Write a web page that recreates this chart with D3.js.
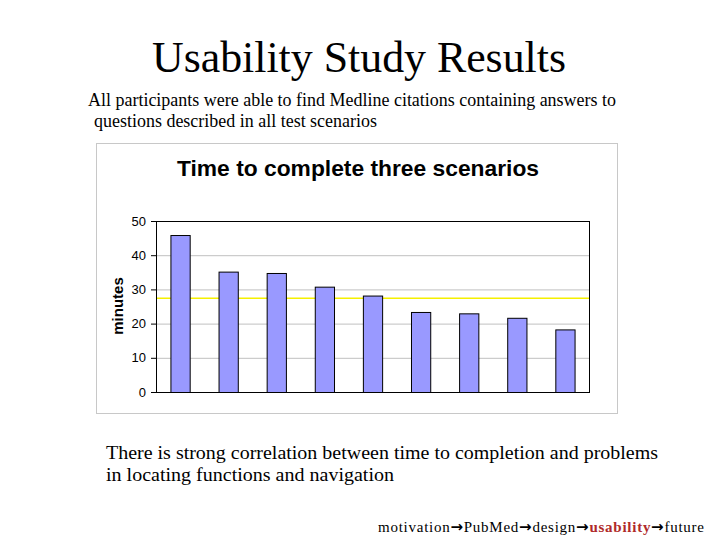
<!DOCTYPE html>
<html><head><meta charset="utf-8">
<script src="https://cdn.jsdelivr.net/npm/d3@7"></script>
<style>body{margin:0;background:#fff}svg{display:block}</style>
</head><body>
<script>
const categories = ["P1","P2","P3","P4","P5","P6","P7","P8","P9"];
const minutes = [45.9, 35.2, 34.8, 30.8, 28.2, 23.4, 23.0, 21.7, 18.3];
const referenceLine = 27.4;
const yTicks = [0, 10, 20, 30, 40, 50];
const footerItems = ["motivation", "PubMed", "design", "usability", "future"];
const activeItem = "usability";

const svg = d3.select("body").append("svg").attr("width", 720).attr("height", 540);

svg.append("text").attr("x", 359).attr("y", 72).attr("text-anchor", "middle")
  .attr("font-family", "Liberation Serif, Times New Roman, serif").attr("font-size", 44)
  .attr("textLength", 414).attr("lengthAdjust", "spacingAndGlyphs")
  .text("Usability Study Results");
svg.append("text").attr("x", 88).attr("y", 106)
  .attr("font-family", "Liberation Serif, serif").attr("font-size", 18)
  .attr("textLength", 528).attr("lengthAdjust", "spacingAndGlyphs")
  .text("All participants were able to find Medline citations containing answers to");
svg.append("text").attr("x", 94).attr("y", 127)
  .attr("font-family", "Liberation Serif, serif").attr("font-size", 18)
  .attr("textLength", 283).attr("lengthAdjust", "spacingAndGlyphs")
  .text("questions described in all test scenarios");

// chart box
svg.append("rect").attr("x", 96.5).attr("y", 143.5).attr("width", 521).attr("height", 270)
  .attr("fill", "#fff").attr("stroke", "#c8c8c8");
svg.append("text").attr("x", 358).attr("y", 176).attr("text-anchor", "middle")
  .attr("font-family", "Liberation Sans, Arial, sans-serif").attr("font-weight", "bold").attr("font-size", 22.5)
  .attr("textLength", 362).attr("lengthAdjust", "spacingAndGlyphs")
  .text("Time to complete three scenarios");

const L = 156, R = 589, T = 221, B = 392;
const x = d3.scaleBand().domain(categories).range([L, R]).paddingInner(0.6).paddingOuter(0.3);
const y = d3.scaleLinear().domain([0, 50]).range([B, T]);

const g = svg.append("g");
g.selectAll("line.grid").data(yTicks.filter(d => d > 0)).join("line")
  .attr("x1", L).attr("x2", R).attr("y1", d => y(d) + 0.5).attr("y2", d => y(d) + 0.5)
  .attr("stroke", "#c0c0c0").attr("stroke-width", 1);

const yAxis = g.append("g").attr("transform", `translate(${L},0)`)
  .call(d3.axisLeft(y).tickValues(yTicks).tickSize(5).tickPadding(5));
yAxis.select(".domain").remove();
yAxis.selectAll("text").attr("font-family", "Liberation Sans, Arial, sans-serif").attr("font-size", 13).attr("fill", "#000");

g.append("line").attr("x1", L).attr("x2", R).attr("y1", y(referenceLine)).attr("y2", y(referenceLine))
  .attr("stroke", "#f5f000").attr("stroke-width", 1.5);

g.selectAll("rect.bar").data(minutes).join("rect")
  .attr("x", (d, i) => x(categories[i]) + 0.5).attr("y", d => y(d) + 0.5)
  .attr("width", x.bandwidth()).attr("height", d => B - y(d))
  .attr("fill", "#9999ff").attr("stroke", "#000").attr("stroke-width", 1);

g.append("rect").attr("x", L + 0.5).attr("y", T + 0.5).attr("width", R - L).attr("height", B - T)
  .attr("fill", "none").attr("stroke", "#000").attr("stroke-width", 1);

svg.append("text").attr("transform", "translate(123,306) rotate(-90)").attr("text-anchor", "middle")
  .attr("font-family", "Liberation Sans, Arial, sans-serif").attr("font-weight", "bold").attr("font-size", 15)
  .text("minutes");

svg.append("text").attr("x", 106).attr("y", 459)
  .attr("font-family", "Liberation Serif, serif").attr("font-size", 19.5)
  .attr("textLength", 552).attr("lengthAdjust", "spacingAndGlyphs")
  .text("There is strong correlation between time to completion and problems");
svg.append("text").attr("x", 106).attr("y", 481)
  .attr("font-family", "Liberation Serif, serif").attr("font-size", 19.5)
  .attr("textLength", 288).attr("lengthAdjust", "spacingAndGlyphs")
  .text("in locating functions and navigation");

const foot = svg.append("text").attr("x", 378).attr("y", 532)
  .attr("font-family", "Liberation Serif, serif").attr("font-size", 15)
  .attr("textLength", 326).attr("lengthAdjust", "spacing");
footerItems.forEach((t, i) => {
  if (i > 0) foot.append("tspan").attr("font-weight", "bold").attr("font-family", "DejaVu Sans, sans-serif").attr("font-size", 15).text("\u2192");
  const s = foot.append("tspan").text(t);
  if (t === activeItem) s.attr("font-weight", "bold").attr("fill", "#b02a2a");
});
</script>
</body></html>
